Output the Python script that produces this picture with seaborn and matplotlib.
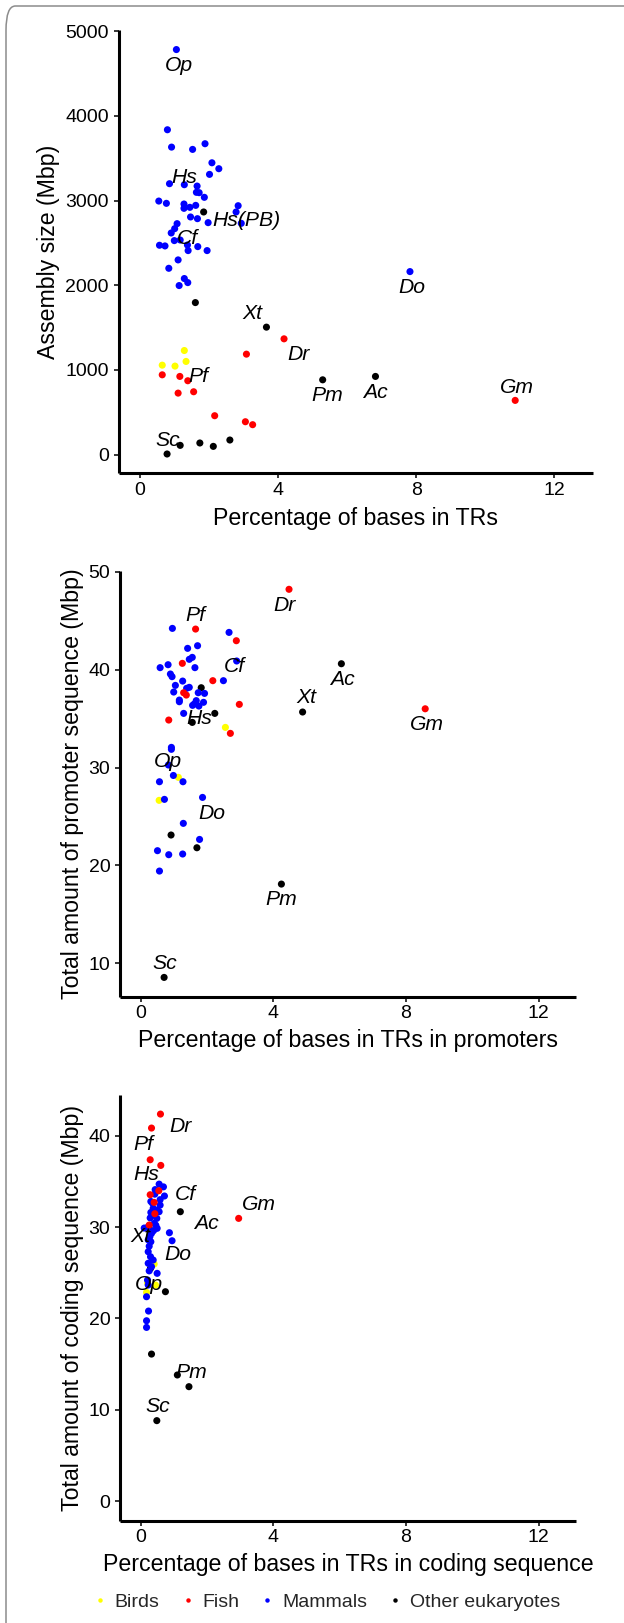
import numpy as np
import pandas as pd
import matplotlib
matplotlib.use("Agg")
import matplotlib.pyplot as plt
import seaborn as sns
from matplotlib.lines import Line2D
from matplotlib.patches import FancyBboxPatch

# ---------------- data ----------------
groups = ["Birds", "Fish", "Mammals", "Other eukaryotes"]
group_colors = ["#FFFF00", "#FF0000", "#0000FF", "#000000"]

# Panel 1: assembly size vs % bases in TRs
p1_birds_x = [1.28, 0.64, 1.01, 1.33]
p1_birds_y = [1230, 1057, 1046, 1101]
p1_fish_x = [4.17, 3.08, 0.64, 1.15, 1.38, 1.10, 1.55, 2.16, 3.05, 3.26, 10.87]
p1_fish_y = [1368, 1187, 943, 924, 873, 727, 743, 460, 389, 354, 641]
p1_mammals_x = [1.05, 0.79, 0.91, 1.52, 1.88, 2.08, 2.28, 2.01, 0.85, 1.28,
                1.65, 1.63, 1.71, 1.86, 0.54, 0.76, 1.27, 1.27, 1.44, 1.61,
                2.84, 2.78, 1.46, 1.66, 1.97, 2.93, 1.07, 1.00, 0.90, 0.99,
                1.16, 1.37, 0.56, 0.72, 1.67, 1.39, 1.94, 1.10, 0.83, 1.28,
                1.38, 1.13, 7.82]
p1_mammals_y = [4784, 3837, 3632, 3605, 3672, 3447, 3377, 3310, 3200, 3188,
                3172, 3098, 3094, 3039, 2995, 2968, 2960, 2909, 2921, 2944,
                2940, 2866, 2807, 2787, 2740, 2732, 2728, 2669, 2618, 2528,
                2535, 2476, 2473, 2465, 2457, 2410, 2410, 2300, 2201, 2080,
                2032, 1997, 2162]
p1_other_x = [1.84, 1.60, 3.66, 5.29, 6.82, 0.78, 1.16, 1.73, 2.12, 2.60]
p1_other_y = [2866, 1796, 1506, 884, 924, 8, 110, 138, 98, 173]
p1_labels = ["Op", "Hs", "Hs(PB)", "Cf", "Do", "Xt", "Dr", "Pf", "Pm", "Ac", "Gm", "Sc"]
p1_label_x = [1.13, 1.29, 3.07, 1.38, 7.86, 3.25, 4.60, 1.69, 5.43, 6.82, 10.91, 0.81]
p1_label_y = [4591, 3274, 2763, 2551, 1977, 1671, 1187, 924, 700, 735, 798, 169]

# Panel 2: promoter sequence vs % bases in TRs in promoters
p2_birds_x = [2.55, 1.13, 0.55]
p2_birds_y = [34.10, 29.0, 26.65]
p2_fish_x = [4.47, 1.65, 2.88, 1.25, 2.17, 1.29, 1.37, 2.97, 0.84, 2.70, 8.58]
p2_fish_y = [48.2, 44.14, 42.95, 40.64, 38.87, 37.64, 37.40, 36.45, 34.85, 33.49, 36.0]
p2_mammals_x = [0.95, 2.66, 1.71, 1.41, 1.55, 1.46, 0.82, 0.58, 1.63, 0.89,
                0.94, 1.26, 2.49, 1.04, 1.46, 1.38, 0.99, 1.73, 1.92, 1.16,
                1.16, 1.67, 1.61, 1.56, 1.89, 1.75, 1.29, 2.89, 0.92, 0.92,
                0.83, 0.56, 0.98, 1.27, 0.71, 1.86, 1.28, 1.77, 0.50, 0.84,
                1.26, 0.56]
p2_mammals_y = [44.21, 43.80, 42.44, 42.17, 41.25, 41.05, 40.50, 40.20, 40.20, 39.55,
                39.28, 38.83, 38.87, 38.39, 38.19, 38.09, 37.71, 37.64, 37.57, 36.89,
                36.72, 36.83, 36.49, 36.35, 36.66, 36.28, 35.53, 40.88, 32.06, 31.86,
                30.26, 28.55, 29.19, 28.55, 26.75, 26.95, 24.30, 22.66, 21.51, 21.10,
                21.17, 19.43]
p2_other_x = [6.05, 1.82, 2.23, 1.55, 4.88, 0.91, 1.69, 4.24, 0.70]
p2_other_y = [40.60, 38.15, 35.53, 34.61, 35.67, 23.11, 21.81, 18.10, 8.57]
p2_labels = ["Pf", "Dr", "Cf", "Ac", "Xt", "Hs", "Gm", "Op", "Do", "Pm", "Sc"]
p2_label_x = [1.65, 4.32, 2.83, 6.09, 4.99, 1.75, 8.62, 0.82, 2.13, 4.24, 0.71]
p2_label_y = [45.57, 46.56, 40.30, 39.0, 37.17, 35.02, 34.41, 30.6, 25.32, 16.54, 10.0]

# Panel 3: coding sequence vs % bases in TRs in coding sequence
p3_birds_x = [0.40, 0.44, 0.17, 0.20]
p3_birds_y = [25.95, 23.65, 22.85, 23.9]
p3_fish_x = [0.59, 0.32, 0.28, 0.60, 0.28, 0.54, 0.40, 0.42, 0.25, 2.95]
p3_fish_y = [42.37, 40.84, 37.37, 36.75, 33.54, 33.98, 32.70, 31.46, 30.22, 30.95]
p3_mammals_x = [0.55, 0.68, 0.71, 0.58, 0.30, 0.58, 0.37, 0.49, 0.55, 0.37,
                0.48, 0.22, 0.40, 0.49, 0.32, 0.27, 0.86, 0.94, 0.22, 0.29,
                0.37, 0.22, 0.32, 0.49, 0.22, 0.17, 0.23, 0.17, 0.17, 0.10,
                0.30, 0.25, 0.45, 0.28, 0.35, 0.42, 0.25, 0.20, 0.30, 0.38,
                0.22, 0.43]
p3_mammals_y = [34.7, 34.4, 33.4, 33.0, 32.8, 32.4, 32.05, 31.86, 31.68, 31.31,
                30.95, 30.03, 30.4, 29.86, 29.31, 28.94, 29.38, 28.5, 27.3, 26.75,
                26.39, 26.03, 25.66, 24.93, 23.65, 22.37, 20.8, 19.74, 19.01, 29.89,
                28.39, 27.9, 30.2, 31.0, 32.6, 33.6, 25.2, 24.2, 31.6, 29.6,
                28.6, 34.1]
p3_other_x = [1.19, 0.74, 0.32, 1.10, 1.45, 0.48, 0.29, 0.27]
p3_other_y = [31.68, 22.92, 16.09, 13.8, 12.52, 8.80, 25.48, 29.7]
p3_labels = ["Dr", "Pf", "Hs", "Cf", "Gm", "Ac", "Xt", "Do", "Op", "Pm", "Sc"]
p3_label_x = [1.19, 0.07, 0.17, 1.35, 3.55, 1.97, -0.02, 1.11, 0.25, 1.51, 0.50]
p3_label_y = [40.98, 39.09, 35.8, 33.6, 32.48, 30.4, 28.94, 27.04, 23.76, 14.09, 10.4]

x_ticks = [0, 4, 8, 12]
p1_y_ticks = [0, 1000, 2000, 3000, 4000, 5000]
p2_y_ticks = [10, 20, 30, 40, 50]
p3_y_ticks = [0, 10, 20, 30, 40]

x_titles = ["Percentage of bases in TRs",
            "Percentage of bases in TRs in promoters",
            "Percentage of bases in TRs in coding sequence"]
y_titles = ["Assembly size (Mbp)",
            "Total amount of promoter sequence (Mbp)",
            "Total amount of coding sequence (Mbp)"]


def panel_frame(bx, by, fx, fy, mx, my, ox, oy):
    parts = [
        pd.DataFrame({"x": ox, "y": oy, "group": "Other eukaryotes"}),
        pd.DataFrame({"x": bx, "y": by, "group": "Birds"}),
        pd.DataFrame({"x": mx, "y": my, "group": "Mammals"}),
        pd.DataFrame({"x": fx, "y": fy, "group": "Fish"}),
    ]
    return pd.concat(parts, ignore_index=True)


frames = [
    panel_frame(p1_birds_x, p1_birds_y, p1_fish_x, p1_fish_y,
                p1_mammals_x, p1_mammals_y, p1_other_x, p1_other_y),
    panel_frame(p2_birds_x, p2_birds_y, p2_fish_x, p2_fish_y,
                p2_mammals_x, p2_mammals_y, p2_other_x, p2_other_y),
    panel_frame(p3_birds_x, p3_birds_y, p3_fish_x, p3_fish_y,
                p3_mammals_x, p3_mammals_y, p3_other_x, p3_other_y),
]
labels = [(p1_labels, p1_label_x, p1_label_y),
          (p2_labels, p2_label_x, p2_label_y),
          (p3_labels, p3_label_x, p3_label_y)]
yticks = [p1_y_ticks, p2_y_ticks, p3_y_ticks]

# ---------------- style ----------------
sns.set_style("ticks")
plt.rcParams["font.family"] = ["Liberation Sans", "DejaVu Sans"]

W, H = 624, 1623
DPI = 100
fig = plt.figure(figsize=(W / DPI, H / DPI), dpi=DPI)
fig.patch.set_facecolor("white")

# journal frame (left and top border with rounded corner)
frame = FancyBboxPatch((6 / W, -0.05), 1.2, 1 - 6 / H + 0.05,
                       boxstyle="round,pad=0,rounding_size=0.015",
                       transform=fig.transFigure, facecolor="none",
                       edgecolor="#8c8c8c", linewidth=1.1, zorder=0)
fig.patches.append(frame)

# axes boxes in pixels: left, right, top, bottom
boxes = [(118.6, 593.0, 30.0, 473.3),
         (120.2, 575.8, 570.7, 996.7),
         (120.2, 575.8, 1095.0, 1521.0)]
ylims = [(-220, 5015), (6.6, 50.1), (-2.19, 44.46)]
ylabel_x = [48.7, 72.6, 72.6]
xlabel_y = [518.0, 1040.7, 1565.0]

palette = dict(zip(groups, group_colors))

for i in range(3):
    l, r, t, b = boxes[i]
    ax = fig.add_axes([l / W, 1 - b / H, (r - l) / W, (b - t) / H])
    sns.scatterplot(data=frames[i], x="x", y="y", hue="group", palette=palette,
                    s=26, linewidth=0, legend=False, ax=ax, zorder=3)
    names, lx, ly = labels[i]
    for n, xx, yy in zip(names, lx, ly):
        ax.text(xx, yy, n, fontsize=15.2, style="italic", ha="center",
                va="center", color="black", zorder=4)
    ax.set_xlim(-0.625, 13.125)
    ax.set_ylim(*ylims[i])
    ax.set_xticks(x_ticks)
    ax.set_yticks(yticks[i])
    ax.set_xticklabels([str(v) for v in x_ticks])
    ax.set_yticklabels([str(v) for v in yticks[i]])
    for s in ["top", "right"]:
        ax.spines[s].set_visible(False)
    for s in ["left", "bottom"]:
        ax.spines[s].set_linewidth(2.2)
        ax.spines[s].set_color("black")
        ax.spines[s].set_capstyle("butt")
    ax.tick_params(axis="both", direction="out", length=3.6, width=1.1,
                   color="black", labelsize=14, labelcolor="black")
    ax.tick_params(axis="y", pad=3.5)
    ax.tick_params(axis="x", pad=2.5)
    ax.set_xlabel(x_titles[i], fontsize=16.7, color="black")
    ax.set_ylabel(y_titles[i], fontsize=16.7, color="black")
    ax.xaxis.set_label_coords(0.5, (b - xlabel_y[i]) / (b - t))
    ax.xaxis.label.set_va("center")
    ax.yaxis.set_label_coords((ylabel_x[i] - l) / (r - l), 0.5)
    ax.yaxis.label.set_va("center")
    ax.yaxis.label.set_ha("center")
    ax.set_facecolor("white")
    ax.grid(False)

# legend at the bottom
handles = [Line2D([0], [0], marker="o", linestyle="none", markersize=3.2,
                  markerfacecolor=c, markeredgewidth=0, color=c)
           for c in group_colors]
fig.legend(handles, groups, loc="center", ncol=4, frameon=False,
           bbox_to_anchor=(327.5 / W, 1 - 1602 / H), fontsize=14,
           handlelength=0.5, handletextpad=0.5, columnspacing=1.2,
           borderpad=0.1)

fig.savefig("out.png", dpi=DPI, facecolor="white")
